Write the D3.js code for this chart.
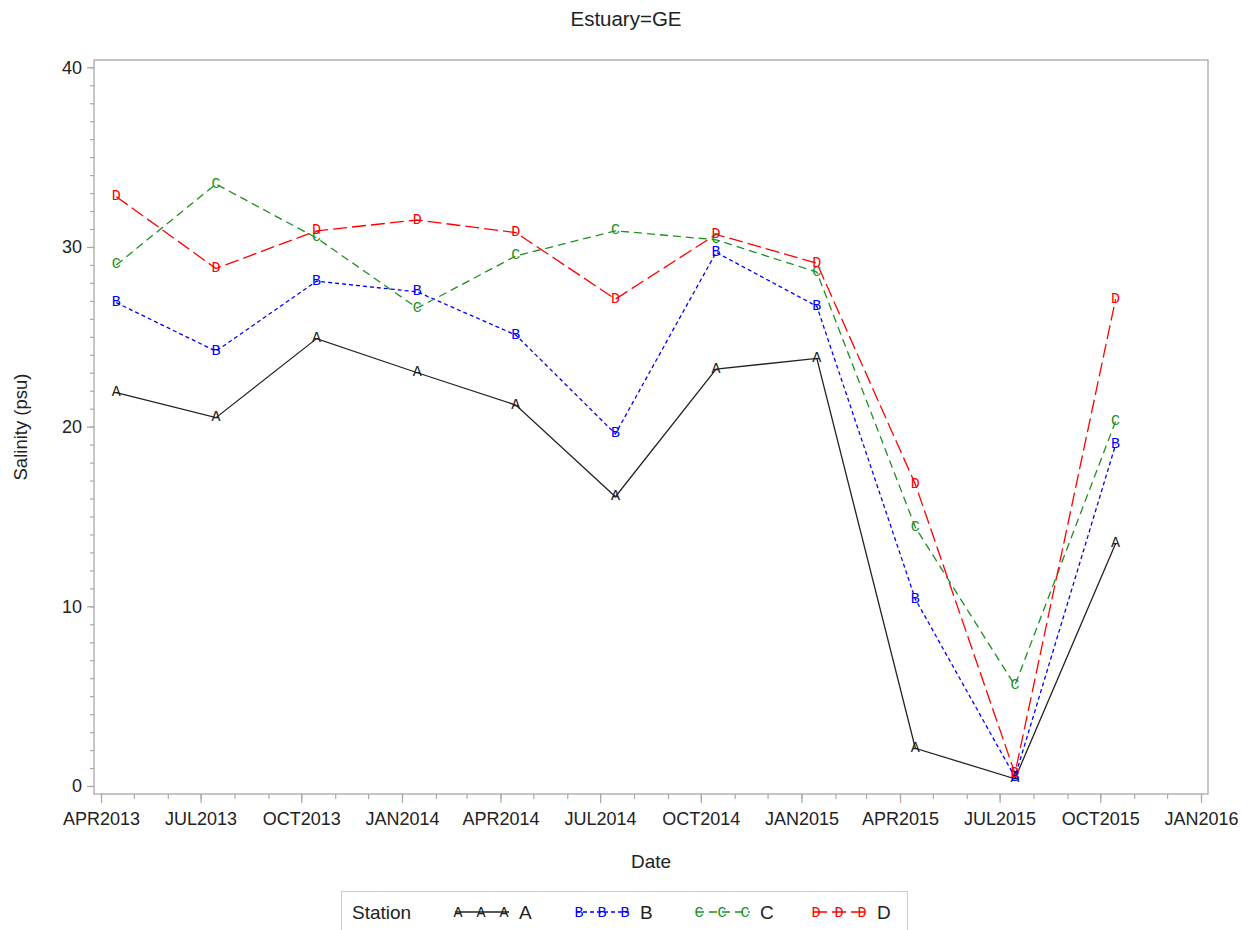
<!DOCTYPE html>
<html>
<head>
<meta charset="utf-8">
<script src="https://cdn.jsdelivr.net/npm/d3@7"></script>
<style>
  body { margin: 0; background: #fff; }
  text { font-family: "Liberation Sans", Arial, sans-serif; }
</style>
</head>
<body>
<script>
// data
var dates = ["2013-04-15", "2013-07-15", "2013-10-15", "2014-01-15", "2014-04-15", "2014-07-15",
             "2014-10-15", "2015-01-15", "2015-04-15", "2015-07-15", "2015-10-15"];
var stations = ["A", "B", "C", "D"];
var stationA = [21.9, 20.5, 24.9, 23.0, 21.2, 16.1, 23.2, 23.8, 2.1, 0.4, 13.5];
var stationB = [26.9, 24.2, 28.1, 27.5, 25.1, 19.6, 29.7, 26.7, 10.4, 0.5, 19.0];
var stationC = [29.0, 33.5, 30.5, 26.6, 29.5, 30.9, 30.4, 28.6, 14.4, 5.6, 20.3];
var stationD = [32.8, 28.8, 30.9, 31.5, 30.8, 27.1, 30.7, 29.1, 16.8, 0.7, 27.1];
var yTicks = [0, 10, 20, 30, 40];

var colors = {A: "#222", B: "#0000ff", C: "#1f8f1f", D: "#ff0000"};
var dashes = {A: null, B: "4,3", C: "8,5", D: "14,5"};

var width = 1252, height = 930;
var frame = {left: 94, right: 1208, top: 60, bottom: 794};

var parse = d3.timeParse("%Y-%m-%d");
var series = [stationA, stationB, stationC, stationD].map(function(vals, i) {
  return {name: stations[i], values: vals.map(function(v, j) { return {date: parse(dates[j]), v: v}; })};
});

var svg = d3.select("body").append("svg")
    .attr("width", width)
    .attr("height", height);

// scales
var x = d3.scaleTime()
    .domain([new Date(2013, 3, 1), new Date(2016, 0, 1)])
    .range([101, 1201]);
var y = d3.scaleLinear().domain([0, 40]).range([786, 67.3]);

// title
svg.append("text")
    .attr("x", 626).attr("y", 26)
    .attr("text-anchor", "middle")
    .style("font-size", "20.5px")
    .style("fill", "#222")
    .text("Estuary=GE");

// frame
svg.append("rect")
    .attr("x", frame.left).attr("y", frame.top)
    .attr("width", frame.right - frame.left)
    .attr("height", frame.bottom - frame.top)
    .style("fill", "none")
    .style("stroke", "#a8a8a8")
    .style("stroke-width", 1.3);

// x axis: major every quarter, minor every month
var fmt = d3.timeFormat("%b%Y");
var majors = d3.timeMonth.every(3).range(new Date(2013, 3, 1), new Date(2016, 0, 2));
var minors = d3.timeMonth.range(new Date(2013, 3, 1), new Date(2016, 0, 2));

var xMinor = svg.append("g")
    .attr("transform", "translate(0," + frame.bottom + ")")
    .call(d3.axisBottom(x).tickValues(minors).tickSize(5).tickFormat(""));
var xMajor = svg.append("g")
    .attr("transform", "translate(0," + frame.bottom + ")")
    .call(d3.axisBottom(x).tickValues(majors).tickSize(9).tickPadding(9)
      .tickFormat(function(d) { return fmt(d).toUpperCase(); }));

// y axis
var yMinor = svg.append("g")
    .attr("transform", "translate(" + frame.left + ",0)")
    .call(d3.axisLeft(y).tickValues(d3.range(0, 41, 1)).tickSize(4).tickFormat(""));
var yMajor = svg.append("g")
    .attr("transform", "translate(" + frame.left + ",0)")
    .call(d3.axisLeft(y).tickValues(yTicks).tickSize(7).tickPadding(5));

[xMinor, xMajor, yMinor, yMajor].forEach(function(g) {
  g.select(".domain").remove();
  g.selectAll("line").style("stroke", "#a8a8a8").style("stroke-width", 1.2);
  g.selectAll("text").style("font-size", "18px").style("fill", "#222")
    .style("font-family", "'Liberation Sans', Arial, sans-serif");
});

// axis labels
svg.append("text")
    .attr("x", 651).attr("y", 868)
    .attr("text-anchor", "middle")
    .style("font-size", "19px").style("fill", "#222")
    .text("Date");
svg.append("text")
    .attr("transform", "translate(27,427) rotate(-90)")
    .attr("text-anchor", "middle")
    .style("font-size", "18.5px").style("fill", "#222")
    .text("Salinity (psu)");

// lines
var line = d3.line()
    .x(function(d) { return x(d.date); })
    .y(function(d) { return y(d.v); });

svg.selectAll(".series")
    .data(series)
  .enter().append("path")
    .attr("class", "series")
    .attr("d", function(d) { return line(d.values); })
    .style("fill", "none")
    .style("stroke", function(d) { return colors[d.name]; })
    .style("stroke-width", 1.3)
    .style("stroke-dasharray", function(d) { return dashes[d.name]; });

// letter markers
series.forEach(function(s) {
  svg.selectAll(".mk" + s.name)
      .data(s.values)
    .enter().append("text")
      .attr("x", function(d) { return x(d.date); })
      .attr("y", function(d) { return y(d.v); })
      .attr("text-anchor", "middle")
      .attr("dominant-baseline", "central")
      .style("font-family", "'Liberation Mono', 'Courier New', monospace")
      .style("font-size", "15px")
      .style("fill", colors[s.name])
      .text(s.name);
});

// legend
var legend = svg.append("g");
legend.append("rect")
    .attr("x", 341.5).attr("y", 891.5)
    .attr("width", 566).attr("height", 50)
    .style("fill", "#fff")
    .style("stroke", "#cccccc");
legend.append("text")
    .attr("x", 352).attr("y", 919)
    .style("font-size", "19px").style("fill", "#222")
    .text("Station");

var entryX = [458, 579, 699, 816];
stations.forEach(function(name, i) {
  var g = legend.append("g").attr("transform", "translate(" + entryX[i] + ",912)");
  g.append("line")
      .attr("x1", -3).attr("x2", 51)
      .style("stroke", colors[name])
      .style("stroke-width", 1.3)
      .style("stroke-dasharray", dashes[name]);
  [0, 23, 46].forEach(function(off) {
    g.append("text")
        .attr("x", off).attr("y", 1)
        .attr("text-anchor", "middle")
        .attr("dominant-baseline", "central")
        .style("font-family", "'Liberation Mono', 'Courier New', monospace")
        .style("font-size", "15px")
        .style("fill", colors[name])
        .text(name);
  });
  g.append("text")
      .attr("x", 61).attr("y", 7)
      .style("font-size", "19px").style("fill", "#222")
      .text(name);
});
</script>
</body>
</html>
